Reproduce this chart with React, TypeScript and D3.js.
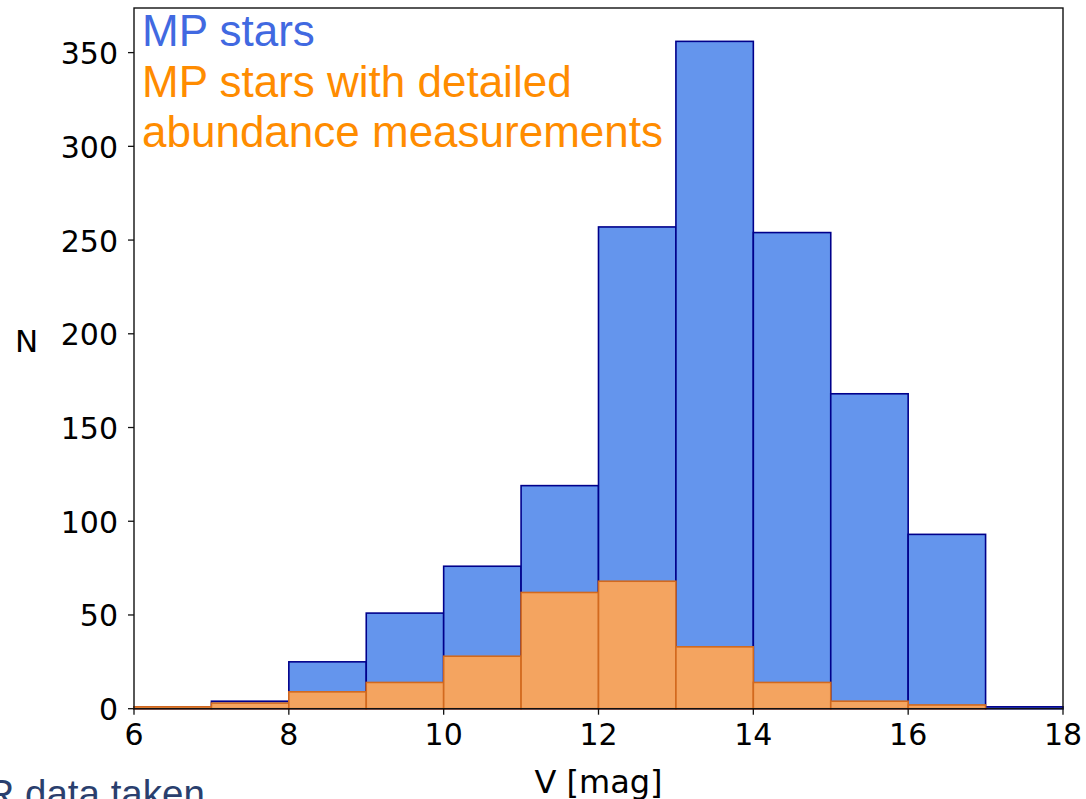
import React from "react";
import * as d3 from "d3";

// Histogram of V magnitudes, bins of width 1 mag from 6 to 18
const binStarts: number[] = [6, 7, 8, 9, 10, 11, 12, 13, 14, 15, 16, 17];
const allCounts: number[] = [1, 4, 25, 51, 76, 119, 257, 356, 254, 168, 93, 1];
const detailedCounts: number[] = [1, 3, 9, 14, 28, 62, 68, 33, 14, 4, 2, 0];
const xTicks: number[] = [6, 8, 10, 12, 14, 16, 18];
const yTicks: number[] = [0, 50, 100, 150, 200, 250, 300, 350];
const binWidth = 1;

const W = 1086;
const H = 799;
const plot = { left: 134, right: 1063, top: 8, bottom: 708.7 };

export default function App() {
  const x = d3.scaleLinear().domain([6, 18]).range([plot.left, plot.right]);
  const yMax = (d3.max(allCounts) ?? 0) * 1.05;
  const y = d3.scaleLinear().domain([0, yMax]).range([plot.bottom, plot.top]);

  const tickFont = "'DejaVu Sans', sans-serif";
  const legendFont = "'Liberation Sans', Arial, sans-serif";

  const bars = (counts: number[], fill: string, stroke: string, key: string) =>
    counts.map((c, i) => {
      const x0 = x(binStarts[i]);
      const x1 = x(binStarts[i] + binWidth);
      return (
        <rect
          key={`${key}-${i}`}
          x={x0}
          y={y(c)}
          width={x1 - x0}
          height={y(0) - y(c)}
          fill={fill}
          stroke={stroke}
          strokeWidth={1.6}
        />
      );
    });

  return (
    <svg
      width={W}
      height={H}
      style={{ position: "absolute", left: 0, top: 0, background: "#fff" }}
    >
      {bars(allCounts, "#6495ED", "#00008B", "all")}
      {bars(detailedCounts, "#F4A460", "#D2691E", "det")}

      {/* frame */}
      <rect
        x={plot.left}
        y={plot.top}
        width={plot.right - plot.left}
        height={plot.bottom - plot.top}
        fill="none"
        stroke="#111"
        strokeWidth={1.4}
      />

      {/* x axis ticks */}
      {xTicks.map((t) => (
        <g key={`xt-${t}`}>
          <line x1={x(t)} x2={x(t)} y1={plot.bottom} y2={plot.bottom + 6} stroke="#111" strokeWidth={1.3} />
          <text x={x(t)} y={745} textAnchor="middle" fontFamily={tickFont} fontSize={30} fill="#000">
            {t}
          </text>
        </g>
      ))}

      {/* y axis ticks */}
      {yTicks.map((t) => (
        <g key={`yt-${t}`}>
          <line x1={plot.left - 6} x2={plot.left} y1={y(t)} y2={y(t)} stroke="#111" strokeWidth={1.3} />
          <text x={118} y={y(t) + 11.5} textAnchor="end" fontFamily={tickFont} fontSize={30} fill="#000">
            {t}
          </text>
        </g>
      ))}

      {/* axis labels */}
      <text x={(plot.left + plot.right) / 2} y={793} textAnchor="middle" fontFamily={tickFont} fontSize={32} fill="#000">
        V [mag]
      </text>
      <text x={26.5} y={352} textAnchor="middle" fontFamily={tickFont} fontSize={31} fill="#000">
        N
      </text>

      {/* legend text */}
      <text x={142} y={46} fontFamily={legendFont} fontSize={44} fill="#4169E1">
        MP stars
      </text>
      <text x={142} y={96.5} fontFamily={legendFont} fontSize={44} fill="#FF8C00">
        MP stars with detailed
      </text>
      <text x={142} y={146.5} fontFamily={legendFont} fontSize={44} fill="#FF8C00">
        abundance measurements
      </text>

      {/* caption fragment below the figure */}
      <text x={-13.5} y={807} fontFamily={legendFont} fontSize={38.5} fill="#2a3f6e">
        R data taken
      </text>
    </svg>
  );
}
